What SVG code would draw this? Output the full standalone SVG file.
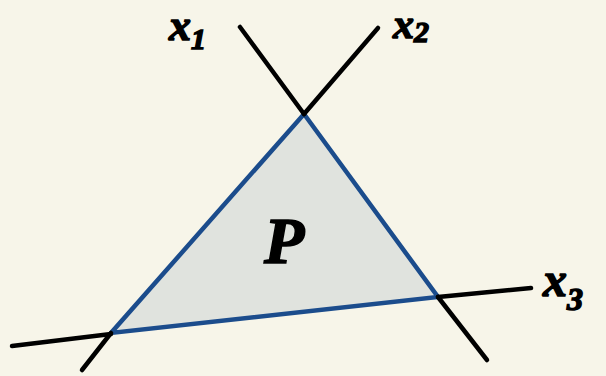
<svg xmlns="http://www.w3.org/2000/svg" width="606" height="376" viewBox="0 0 606 376">
<style>
.ln{stroke:#000;stroke-width:4.5;stroke-linecap:round;fill:none}
.lbl{font-family:"Liberation Serif",serif;font-style:italic;font-weight:bold;fill:#000;stroke:#000;stroke-width:1.5}
</style>
<rect width="606" height="376" fill="#f7f5e9"/>
<g id="region-P">
<polygon points="304,114 438,297 111,333" fill="#e0e3de" stroke="#1b4c8c" stroke-width="4.5" stroke-linejoin="miter"/>
<text class="lbl" x="264" y="263" font-size="66">P</text>
</g>
<g id="connectors">
<line class="ln" x1="240" y1="27" x2="304" y2="114"/>
<line class="ln" x1="438" y1="297" x2="487" y2="360"/>
<line class="ln" x1="378" y1="28" x2="304" y2="114"/>
<line class="ln" x1="111" y1="333" x2="82" y2="370"/>
<line class="ln" x1="12" y1="346" x2="111" y2="334"/>
<line class="ln" x1="438" y1="297" x2="531" y2="288"/>
</g>
<g id="label-x1"><text class="lbl" x="169" y="40" font-size="44">x<tspan font-size="30" dy="9">1</tspan></text></g>
<g id="label-x2"><text class="lbl" x="393" y="38" font-size="42">x<tspan font-size="30" dy="4">2</tspan></text></g>
<g id="label-x3"><text class="lbl" x="543" y="296" font-size="48">x<tspan font-size="32" dy="14">3</tspan></text></g>
</svg>
